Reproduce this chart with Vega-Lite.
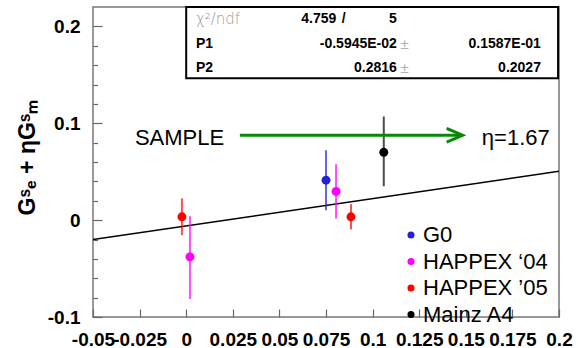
{
  "$schema": "https://vega.github.io/schema/vega-lite/v6.json",
  "width": 466,
  "height": 310,
  "autosize": {"type": "none"},
  "padding": {"left": 93, "top": 7, "right": 19, "bottom": 31},
  "background": "white",
  "config": {
    "view": {"stroke": "#777", "strokeWidth": 1.5},
    "font": "Liberation Sans"
  },
  "datasets": {
    "fit": [{"x": -0.05, "y": -0.0200}, {"x": 0.2, "y": 0.0504}],
    "pts": [
      {"series": "HAPPEX ’05", "x": -0.0023, "y": 0.0034, "lo": -0.0155, "hi": 0.0224},
      {"series": "HAPPEX ‘04", "x": 0.0020, "y": -0.0380, "lo": -0.0814, "hi": 0.0041},
      {"series": "G0", "x": 0.0750, "y": 0.0412, "lo": 0.0103, "hi": 0.0722},
      {"series": "HAPPEX ‘04", "x": 0.0804, "y": 0.0296, "lo": 0.0017, "hi": 0.0577},
      {"series": "HAPPEX ’05", "x": 0.0884, "y": 0.0034, "lo": -0.0096, "hi": 0.0165},
      {"series": "Mainz A4", "x": 0.1060, "y": 0.0700, "lo": 0.0350, "hi": 0.1070}
    ],
    "box": [{"x": 0.0, "x2": 0.1995, "y": 0.2200, "y2": 0.1464}],
    "stats": [
      {"col": "name", "text": "χ²/ndf", "x": 0.0052, "y": 0.2072},
      {"col": "name", "text": "P1", "x": 0.0052, "y": 0.1814},
      {"col": "name", "text": "P2", "x": 0.0052, "y": 0.1567},
      {"col": "value", "text": "4.759", "x": 0.0805, "y": 0.2072},
      {"col": "value", "text": "/", "x": 0.0856, "y": 0.2072},
      {"col": "value", "text": "5", "x": 0.1130, "y": 0.2072},
      {"col": "value", "text": "-0.5945E-02", "x": 0.1130, "y": 0.1814},
      {"col": "value", "text": "0.1587E-01", "x": 0.1903, "y": 0.1814},
      {"col": "value", "text": "0.2816", "x": 0.1130, "y": 0.1567},
      {"col": "value", "text": "0.2027", "x": 0.1903, "y": 0.1567},
      {"col": "pm", "text": "±", "x": 0.1172, "y": 0.1814},
      {"col": "pm", "text": "±", "x": 0.1172, "y": 0.1567}
    ],
    "arrow": [{"x": 0.0288, "x2": 0.1480, "y": 0.0876, "head": 0.1440}],
    "notes": [
      {"text": "SAMPLE", "x": -0.0275, "y": 0.0845},
      {"text": "η=1.67", "x": 0.1586, "y": 0.0845}
    ]
  },
  "resolve": {
    "axis": {"x": "independent", "y": "independent"},
    "legend": {"color": "independent"}
  },
  "layer": [
    {
      "data": {"name": "fit"},
      "mark": {"type": "line", "color": "#000", "strokeWidth": 1.5, "clip": true},
      "encoding": {
        "x": {
          "field": "x", "type": "quantitative",
          "scale": {"domain": [-0.05, 0.2], "nice": false, "zero": false},
          "axis": {
            "values": [-0.05, -0.025, 0, 0.025, 0.05, 0.075, 0.1, 0.125, 0.15, 0.175, 0.2],
            "labelExpr": "toString(datum.value)",
            "labelFont": "Liberation Sans", "labelFontWeight": "bold", "labelFontSize": 19, "labelColor": "#000",
            "tickSize": -8, "tickColor": "#666", "tickWidth": 1.2,
            "labelPadding": 21, "domain": false, "grid": false, "title": null,
            "labelOverlap": false, "labelFlush": false, "labelBound": false
          }
        },
        "y": {
          "field": "y", "type": "quantitative",
          "scale": {"domain": [-0.1, 0.22], "nice": false, "zero": false},
          "axis": {
            "values": [-0.1, 0, 0.1, 0.2],
            "labelExpr": "toString(datum.value)",
            "labelFont": "Liberation Sans", "labelFontWeight": "bold", "labelFontSize": 19, "labelColor": "#000",
            "tickSize": -9, "tickColor": "#666", "tickWidth": 1.2,
            "labelPadding": 22, "domain": false, "grid": false,
            "labelOverlap": false, "labelFlush": false, "labelBound": false,
            "title": "Gˢₑ + ηGˢₘ",
            "titleFont": "Liberation Sans", "titleFontWeight": "bold", "titleFontSize": 23, "titleColor": "#000",
            "titleX": -66, "titleY": 150, "titleAngle": 270, "titleAlign": "center", "titleBaseline": "middle"
          }
        }
      }
    },
    {
      "data": {"name": "pts"},
      "mark": {"type": "rule", "strokeWidth": 2, "opacity": 0.7},
      "encoding": {
        "x": {"field": "x", "type": "quantitative", "axis": null},
        "y": {"field": "lo", "type": "quantitative", "axis": null},
        "y2": {"field": "hi"},
        "color": {"field": "series", "type": "nominal", "legend": null}
      }
    },
    {
      "data": {"name": "pts"},
      "mark": {"type": "point", "filled": true, "size": 80, "opacity": 1},
      "encoding": {
        "x": {"field": "x", "type": "quantitative", "axis": null},
        "y": {
          "field": "y", "type": "quantitative",
          "axis": {
            "orient": "left",
            "values": [-0.08, -0.06, -0.04, -0.02, 0.02, 0.04, 0.06, 0.08, 0.12, 0.14, 0.16, 0.18],
            "labels": false, "domain": false, "grid": false, "title": null,
            "tickSize": -4.5, "tickColor": "#666", "tickWidth": 1.2
          }
        },
        "color": {
          "field": "series", "type": "nominal",
          "scale": {
            "domain": ["G0", "HAPPEX ‘04", "HAPPEX ’05", "Mainz A4"],
            "range": ["#2222dd", "#ff00ff", "#ff0000", "#000000"]
          },
          "legend": {
            "orient": "none", "legendX": 307, "legendY": 217,
            "title": null, "padding": 0,
            "labelFont": "Liberation Sans", "labelFontSize": 22, "labelFontWeight": "normal", "labelLimit": 0,
            "labelOffset": 1, "rowPadding": 4.5,
            "symbolType": "circle", "symbolSize": 50, "symbolStrokeWidth": 0,
            "encode": {
              "labels": {"update": {"fill": {"signal": "datum.value == 'G0' ? '#1a6eff' : datum.value == 'Mainz A4' ? '#000000' : indexof(datum.value, '04') >= 0 ? '#ff00ff' : '#ff0000'"}}},
              "symbols": {"update": {"fill": {"signal": "datum.value == 'G0' ? '#1a6eff' : datum.value == 'Mainz A4' ? '#000000' : indexof(datum.value, '04') >= 0 ? '#ff00ff' : '#ff0000'"}}}
            }
          }
        }
      }
    },
    {
      "data": {"name": "arrow"},
      "mark": {"type": "rule", "color": "#078a07", "strokeWidth": 3},
      "encoding": {
        "x": {"field": "x", "type": "quantitative", "axis": null},
        "x2": {"field": "x2"},
        "y": {"field": "y", "type": "quantitative", "axis": null}
      }
    },
    {
      "data": {"name": "arrow"},
      "mark": {"type": "point", "shape": "M -1 -0.85 L 1 0 L -1 0.85", "size": 256, "filled": false, "stroke": "#078a07", "strokeWidth": 3, "opacity": 1},
      "encoding": {
        "x": {"field": "head", "type": "quantitative", "axis": null},
        "y": {"field": "y", "type": "quantitative", "axis": null}
      }
    },
    {
      "data": {"name": "notes"},
      "mark": {"type": "text", "align": "left", "baseline": "middle", "fontSize": 22, "font": "Liberation Sans", "color": "#000"},
      "encoding": {
        "x": {"field": "x", "type": "quantitative", "axis": null},
        "y": {"field": "y", "type": "quantitative", "axis": null},
        "text": {"field": "text"}
      }
    },
    {
      "data": {"name": "box"},
      "mark": {"type": "rect", "fill": "white", "stroke": "#000", "strokeWidth": 2},
      "encoding": {
        "x": {"field": "x", "type": "quantitative", "axis": null},
        "x2": {"field": "x2"},
        "y": {"field": "y", "type": "quantitative", "axis": null},
        "y2": {"field": "y2"}
      }
    },
    {
      "data": {"name": "stats"},
      "transform": [{"filter": "datum.col == 'name' && datum.text != 'χ²/ndf'"}],
      "mark": {"type": "text", "align": "left", "baseline": "middle", "fontSize": 14, "fontWeight": "bold", "font": "Liberation Sans", "color": "#000"},
      "encoding": {
        "x": {"field": "x", "type": "quantitative", "axis": null},
        "y": {"field": "y", "type": "quantitative", "axis": null},
        "text": {"field": "text"}
      }
    },
    {
      "data": {"name": "stats"},
      "transform": [{"filter": "datum.text == 'χ²/ndf'"}],
      "mark": {"type": "text", "align": "left", "baseline": "middle", "fontSize": 15, "font": "DejaVu Sans", "fontWeight": 200, "color": "#9a9a9a"},
      "encoding": {
        "x": {"field": "x", "type": "quantitative", "axis": null},
        "y": {"field": "y", "type": "quantitative", "axis": null},
        "text": {"field": "text"}
      }
    },
    {
      "data": {"name": "stats"},
      "transform": [{"filter": "datum.col == 'value'"}],
      "mark": {"type": "text", "align": "right", "baseline": "middle", "fontSize": 14, "fontWeight": "bold", "font": "Liberation Sans", "color": "#000"},
      "encoding": {
        "x": {"field": "x", "type": "quantitative", "axis": null},
        "y": {"field": "y", "type": "quantitative", "axis": null},
        "text": {"field": "text"}
      }
    },
    {
      "data": {"name": "stats"},
      "transform": [{"filter": "datum.col == 'pm'"}],
      "mark": {"type": "text", "align": "center", "baseline": "middle", "fontSize": 15, "font": "Liberation Sans", "color": "#b0b0b0"},
      "encoding": {
        "x": {"field": "x", "type": "quantitative", "axis": null},
        "y": {"field": "y", "type": "quantitative", "axis": null},
        "text": {"field": "text"}
      }
    }
  ]
}
